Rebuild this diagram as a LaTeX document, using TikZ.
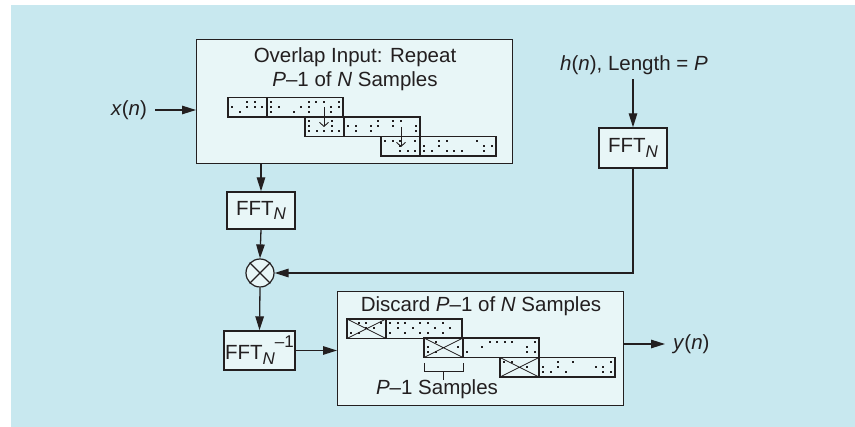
\documentclass[tikz,border=0pt]{standalone}
\usepackage{fontspec}
\setmainfont{Liberation Sans}
\usetikzlibrary{arrows.meta}
\definecolor{bgc}{HTML}{C8E8EF}
\definecolor{boxc}{HTML}{E8F6F7}
\definecolor{ink}{HTML}{231F20}
\newcommand\dotsin[4]{%
  \pgfmathsetmacro\segw{(#3)-(#1)}%
  \pgfmathtruncatemacro\segnc{floor(\segw/7.5)}%
  \foreach \ci in {1,...,\segnc}{%
    \pgfmathsetmacro\cx{(#1)+\ci*7.5-3.5}%
    \foreach \rj in {0,1,2}{%
      \pgfmathtruncatemacro\okdot{rnd<0.45?1:0}%
      \ifnum\okdot=1 \fill[ink] (\cx-1,#2+4.5+\rj*5-1) rectangle ++(2,2);\fi
    }%
  }%
}
\newcommand\samprow[2]{%
  \draw[seg] (#1,#2) rectangle ++(115,19.5);
  \draw[seg] (#1+39,#2) -- ++(0,19.5);
  \dotsin{#1}{#2}{#1+39}{#2+19.5}%
  \dotsin{#1+39}{#2}{#1+115}{#2+19.5}%
}
\newcommand\crossrow[2]{%
  \draw[seg] (#1,#2) rectangle ++(115,19.5);
  \draw[seg] (#1+39,#2) -- ++(0,19.5);
  \draw[seg,line width=0.8pt] (#1,#2) -- (#1+39,#2+19.5) (#1,#2+19.5) -- (#1+39,#2);
  \dotsin{#1}{#2}{#1+39}{#2+19.5}%
  \dotsin{#1+39}{#2}{#1+115}{#2+19.5}%
}
\begin{document}
\begin{tikzpicture}[x=1pt,y=-1pt,
  lbl/.style={font=\fontsize{20.5}{24}\selectfont, inner sep=0pt, text=ink},
  box/.style={draw=ink, line width=1.4pt, fill=boxc, inner sep=0pt},
  seg/.style={draw=ink, line width=1.1pt},
  arr/.style={draw=ink, line width=1.3pt, -{Triangle[length=14pt,width=8.5pt]}},
  small arr/.style={draw=ink, line width=0.9pt, -{Straight Barb[length=4pt,width=9pt]}},
  ln/.style={draw=ink, line width=1.2pt}
]
\pgfmathsetseed{17}
\useasboundingbox (0,0) rectangle (855,427);
\fill[bgc] (11,5) rectangle (855,427);

% top overlap box
\node[box, minimum width=316pt, minimum height=124pt, anchor=north west] (ovl) at (196,39) {};
\node[lbl, anchor=base] (ovlt1) at (355,63) {Overlap Input: Repeat};
\node[lbl, anchor=base] (ovlt2) at (355,87) {\textit{P}–1 of \textit{N} Samples};
\samprow{228}{97.5}
\samprow{305}{117}
\samprow{381}{136.5}
\draw[small arr] (324,107) -- (324,127);
\draw[small arr] (401,127) -- (401,147);

% bottom discard box
\node[box, minimum width=286pt, minimum height=114pt, anchor=north west] (bot) at (337,291) {};
\node[lbl, anchor=base] (bott) at (481,312) {Discard \textit{P}–1 of \textit{N} Samples};
\crossrow{347}{319}
\crossrow{424}{338}
\crossrow{500}{357.5}
\draw[ln, line width=1pt] (424,363) -- (424,372) -- (463,372) -- (463,363);
\draw[ln, line width=1pt] (443.5,372) -- (443.5,380);
\node[lbl, anchor=base] (pm1) at (437,395) {\textit{P}–1 Samples};

% FFT boxes
\node[box, minimum width=68pt, minimum height=37pt, lbl, draw=ink, fill=boxc, line width=1.4pt] (fftl) at (261,210.5)
  {FFT\raisebox{-0.45ex}{\fontsize{17}{17}\selectfont\itshape N}};
\node[box, minimum width=68pt, minimum height=40pt, lbl, draw=ink, fill=boxc, line width=1.4pt] (fftr) at (633,148)
  {FFT\raisebox{-0.45ex}{\fontsize{17}{17}\selectfont\itshape N}};
\node[box, minimum width=71pt, minimum height=39pt, lbl, draw=ink, fill=boxc, line width=1.4pt] (ffti) at (259.5,350.5)
  {FFT\raisebox{-0.45ex}{\fontsize{17}{17}\selectfont\itshape N}\raisebox{1.1ex}{\fontsize{17}{17}\selectfont –1}};

% multiplier
\node[circle, draw=ink, fill=boxc, line width=1.2pt, minimum size=28pt, inner sep=0pt] (mult) at (260,273) {};
\draw[ln] (mult.45) -- (mult.225) (mult.135) -- (mult.315);

% labels
\node[lbl] (xn) at (129,110) {\textit{x}(\textit{n})};
\node[lbl, anchor=base] (hlab) at (634,71) {\textit{h}(\textit{n}), Length = \textit{P}};
\node[lbl, anchor=west] (yn) at (673,344) {\textit{y}(\textit{n})};

% connectors
\draw[arr] ([xshift=8pt]xn.east) -- (xn.east -| ovl.west);
\draw[arr] (ovl.south -| fftl.north) -- (fftl.north);
\draw[arr] (fftl.south) -- (mult.north);
\draw[arr, shorten <=4pt] (hlab.south -| fftr.north) -- (fftr.north);
\draw[arr] (fftr.south) |- (mult.east);
\draw[arr] (mult.south) -- (ffti.north);
\draw[arr] (ffti.east) -- (ffti.east -| bot.west);
\draw[arr] (bot.east |- yn.west) -- ([xshift=-8pt]yn.west);
\end{tikzpicture}
\end{document}
